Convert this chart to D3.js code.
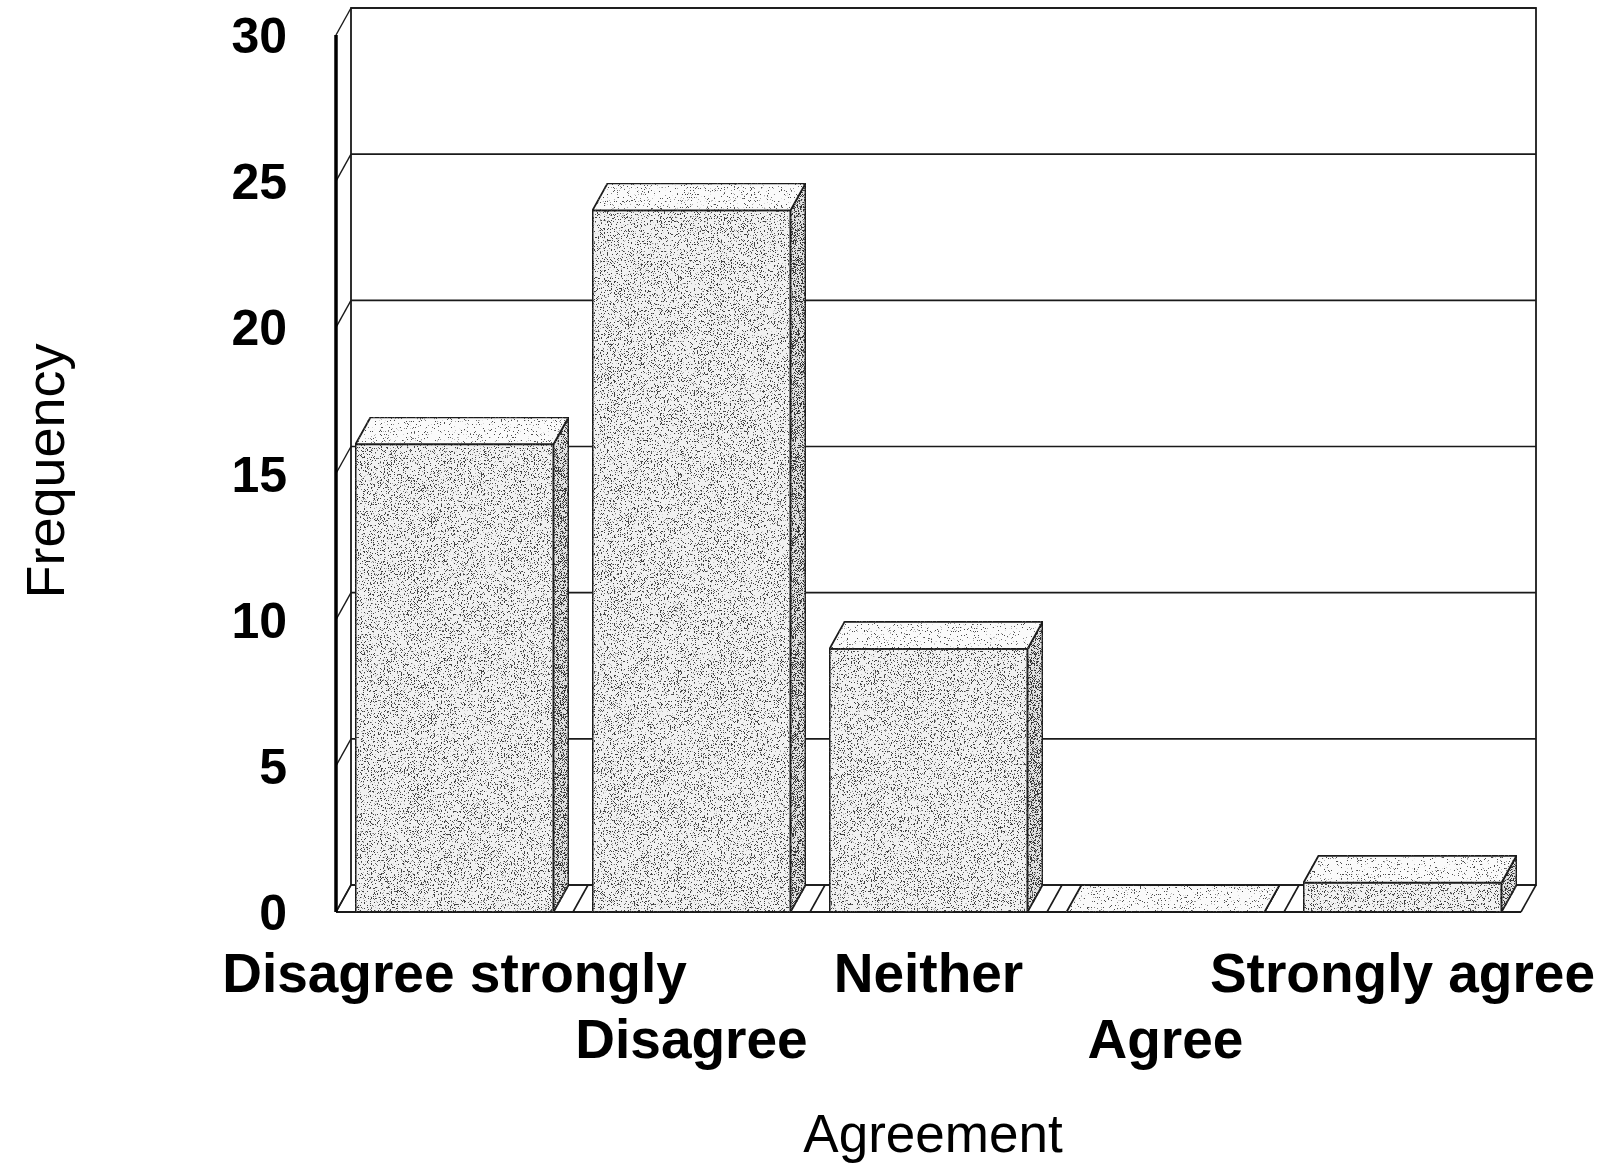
<!DOCTYPE html>
<html>
<head>
<meta charset="utf-8">
<script src="https://cdn.jsdelivr.net/npm/d3@7"></script>
<style>
  html, body { margin: 0; padding: 0; background: #fff; }
  svg { display: block; }
  text { font-family: "Liberation Sans", Arial, Helvetica, sans-serif; fill: #000; }
</style>
</head>
<body>
<svg id="chart" width="1605" height="1176"></svg>
<script>
// Survey responses: how many respondents chose each level of agreement
const categories = ["Disagree strongly", "Disagree", "Neither", "Agree", "Strongly agree"];
const frequencies = [16, 24, 9, 0, 1];
const yTicks = [0, 5, 10, 15, 20, 25, 30];
const yTitle = "Frequency";
const xTitle = "Agreement";

const plot = { left: 336, right: 1521, top: 35, bottom: 912 };
// oblique offset of the back wall relative to the front plane
const DX = 15, DY = 27;

const svg = d3.select("#chart");
const defs = svg.append("defs");

// stippled shading for the bar faces
function speckle(id, threshold, seed, ink) {
  const f = defs.append("filter").attr("id", id)
    .attr("x", 0).attr("y", 0).attr("width", 1).attr("height", 1)
    .attr("color-interpolation-filters", "sRGB");
  f.append("feTurbulence").attr("type", "fractalNoise")
    .attr("baseFrequency", 1.3).attr("numOctaves", 1).attr("seed", seed).attr("result", "noise");
  f.append("feColorMatrix").attr("in", "noise").attr("type", "matrix")
    .attr("values", `0 0 0 0 ${ink}  0 0 0 0 ${ink}  0 0 0 0 ${ink}  -20 0 0 0 ${threshold * 20}`)
    .attr("result", "dots");
  f.append("feComposite").attr("in", "dots").attr("in2", "SourceGraphic")
    .attr("operator", "in").attr("result", "clipped");
  const m = f.append("feMerge");
  m.append("feMergeNode").attr("in", "SourceGraphic");
  m.append("feMergeNode").attr("in", "clipped");
}
speckle("speckle-front", 0.41, 3, 0.25);
speckle("speckle-top", 0.36, 5, 0.3);
speckle("speckle-side", 0.48, 9, 0.2);

const x = d3.scaleBand()
  .domain(categories)
  .range([plot.left, plot.right])
  .paddingInner(39 / 237)
  .paddingOuter(19.5 / 237);

const y = d3.scaleLinear().domain([0, 30]).range([plot.bottom, plot.top]);

const lineColor = "#1a1a1a";
const g = svg.append("g");

// back wall
g.append("rect")
  .attr("x", plot.left + DX).attr("y", y(30) - DY)
  .attr("width", plot.right - plot.left).attr("height", y(0) - y(30))
  .attr("fill", "#fff").attr("stroke", lineColor).attr("stroke-width", 1.8);

// gridlines across the back wall and the side wall
const grid = g.append("g");
yTicks.forEach(v => {
  grid.append("line")
    .attr("x1", plot.left + DX).attr("x2", plot.right + DX)
    .attr("y1", y(v) - DY).attr("y2", y(v) - DY)
    .attr("stroke", lineColor).attr("stroke-width", 1.6);
  grid.append("line")
    .attr("x1", plot.left).attr("y1", y(v))
    .attr("x2", plot.left + DX).attr("y2", y(v) - DY)
    .attr("stroke", lineColor).attr("stroke-width", 1.4);
});

// floor: front edge and category dividers
const floor = g.append("g");
floor.append("line")
  .attr("x1", plot.left).attr("x2", plot.right)
  .attr("y1", y(0)).attr("y2", y(0))
  .attr("stroke", lineColor).attr("stroke-width", 2);
const step = x.step();
d3.range(categories.length + 1).forEach(k => {
  const bx = plot.left + k * step;
  floor.append("line")
    .attr("x1", bx).attr("y1", y(0))
    .attr("x2", bx + DX).attr("y2", y(0) - DY)
    .attr("stroke", lineColor).attr("stroke-width", 1.6);
});

// 3-D columns
const bars = g.append("g").selectAll("g.bar")
  .data(categories.map((c, i) => ({ c, v: frequencies[i] })))
  .join("g").attr("class", "bar");

bars.each(function (d) {
  const b = d3.select(this);
  const x0 = x(d.c), w = x.bandwidth();
  const yt = y(d.v), yb = y(0);
  const pts = a => a.map(p => p.join(",")).join(" ");
  // side face
  b.append("polygon")
    .attr("points", pts([[x0 + w, yt], [x0 + w + DX, yt - DY], [x0 + w + DX, yb - DY], [x0 + w, yb]]))
    .attr("fill", "#e2e2e2").attr("stroke", lineColor).attr("stroke-width", 1.8)
    .attr("stroke-linejoin", "round")
    .attr("filter", "url(#speckle-side)");
  // top face
  b.append("polygon")
    .attr("points", pts([[x0, yt], [x0 + w, yt], [x0 + w + DX, yt - DY], [x0 + DX, yt - DY]]))
    .attr("fill", "#fafafa").attr("stroke", lineColor).attr("stroke-width", 1.8)
    .attr("stroke-linejoin", "round")
    .attr("filter", "url(#speckle-top)");
  // front face
  if (yb - yt > 0) {
    b.append("rect")
      .attr("x", x0).attr("y", yt).attr("width", w).attr("height", yb - yt)
      .attr("fill", "#f1f1f1").attr("stroke", lineColor).attr("stroke-width", 2)
      .attr("filter", "url(#speckle-front)");
  }
});

// value axis line
g.append("line")
  .attr("x1", plot.left).attr("x2", plot.left)
  .attr("y1", y(30)).attr("y2", y(0))
  .attr("stroke", "#000").attr("stroke-width", 3.5);

// tick labels
const tickFs = 50;
svg.append("g").selectAll("text")
  .data(yTicks).join("text")
  .attr("x", 287).attr("y", v => y(v) + tickFs * 0.36)
  .attr("text-anchor", "end")
  .attr("font-weight", "bold").attr("font-size", tickFs)
  .text(v => v);

// category labels, staggered over two rows
svg.append("g").selectAll("text")
  .data(categories).join("text")
  .attr("x", c => x(c) + x.bandwidth() / 2)
  .attr("y", (c, i) => i % 2 === 0 ? 992 : 1058)
  .attr("text-anchor", "middle")
  .attr("font-weight", "bold").attr("font-size", 55)
  .text(c => c);

// axis titles
svg.append("text")
  .attr("transform", "translate(64,471) rotate(-90)")
  .attr("text-anchor", "middle").attr("font-size", 54)
  .text(yTitle);

svg.append("text")
  .attr("x", 933).attr("y", 1152)
  .attr("text-anchor", "middle").attr("font-size", 53)
  .text(xTitle);
</script>
</body>
</html>
